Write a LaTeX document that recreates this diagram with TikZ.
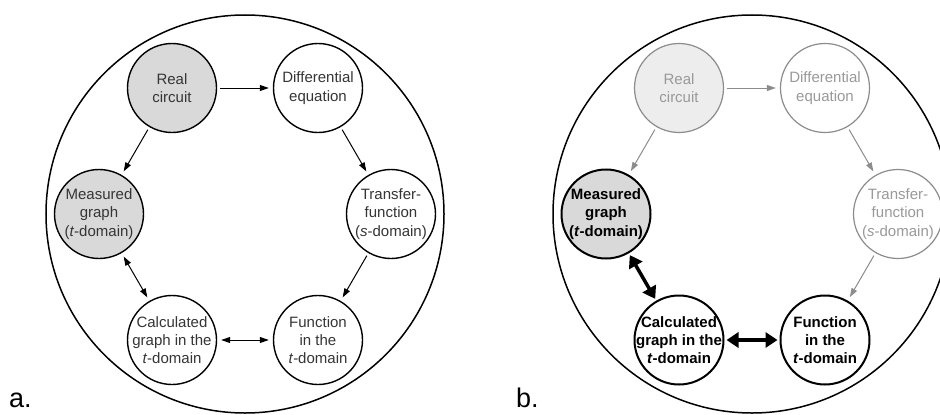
\documentclass[tikz,border=0pt]{standalone}
\usepackage{fontspec}
\setmainfont{Liberation Sans}
\usepackage{xcolor}
\usetikzlibrary{arrows.meta}

\definecolor{fillgray}{HTML}{D9D9D9}
\definecolor{palegray}{HTML}{EDEDED}
\definecolor{textgray}{HTML}{353535}
\definecolor{fadegray}{HTML}{8C8C8C}
\definecolor{fadetext}{HTML}{999999}

\newcommand{\stagefont}{\fontsize{15bp}{18.3bp}\selectfont}

\tikzset{
  stage/.style={circle, draw, fill=white, line width=1.4bp, minimum size=89bp, inner sep=-12bp,
    align=center, font=\stagefont, text=textgray},
  measured/.style={stage, fill=fillgray},
  faded/.style={stage, draw=fadegray, line width=1.2bp, text=fadetext},
  boldstage/.style={stage, line width=2bp, text=black, font=\stagefont\bfseries},
  flow/.style={-{Triangle[length=9bp,width=6bp]}, line width=1bp, shorten <=3bp, shorten >=4bp},
  twoway/.style={{Triangle[length=9bp,width=6bp]}-{Triangle[length=9bp,width=6bp]},
    line width=1bp, shorten <=4bp, shorten >=4bp},
  fadedflow/.style={flow, draw=fadegray},
  thicktwoway/.style={{Triangle[length=12bp,width=15bp]}-{Triangle[length=12bp,width=15bp]},
    line width=3.5bp, shorten <=2bp, shorten >=2bp},
  panel/.style={font=\fontsize{27bp}{30bp}\selectfont, anchor=base west, inner sep=0pt}
}

\begin{document}
\begin{tikzpicture}[x=1bp, y=1bp]
    \useasboundingbox (0,0) rectangle (940,414);

    % a. all six stages
    \draw[line width=1.5bp] (245,200) circle[radius=199bp];

    \node[measured] (a-real) at (172,326) {Real\\circuit};
    \node[stage] (a-diff) at (318,326) {Differential\\equation};
    \node[measured] (a-meas) at (99,200) {Measured\\graph\\(\textit{t}-domain)};
    \node[stage] (a-trans) at (391,200) {Transfer-\\function\\(\textit{s}-domain)};
    \node[stage] (a-calc) at (172,74) {Calculated\\graph in the\\\textit{t}-domain};
    \node[stage] (a-func) at (318,74) {Function\\in the\\\textit{t}-domain};

    \draw[flow] (a-real) -- (a-diff);
    \draw[flow] (a-real) -- (a-meas);
    \draw[flow] (a-diff) -- (a-trans);
    \draw[flow] (a-trans) -- (a-func);
    \draw[twoway] (a-meas) -- (a-calc);
    \draw[twoway] (a-calc) -- (a-func);

    \node[panel] (a-label) at (9,7) {a.};

    % b. only the comparison stays in front
    \draw[line width=1.5bp] (752,200) circle[radius=199bp];

    \node[faded, fill=palegray] (b-real) at (679,326) {Real\\circuit};
    \node[faded] (b-diff) at (825,326) {Differential\\equation};
    \node[boldstage, fill=fillgray] (b-meas) at (606,200) {Measured\\graph\\(\textit{t}-domain)};
    \node[faded] (b-trans) at (898,200) {Transfer-\\function\\(\textit{s}-domain)};
    \node[boldstage] (b-calc) at (679,74) {Calculated\\graph in the\\\textit{t}-domain};
    \node[boldstage] (b-func) at (825,74) {Function\\in the\\\textit{t}-domain};

    \draw[fadedflow] (b-real) -- (b-diff);
    \draw[fadedflow] (b-real) -- (b-meas);
    \draw[fadedflow] (b-diff) -- (b-trans);
    \draw[fadedflow] (b-trans) -- (b-func);
    \draw[thicktwoway] (b-meas) -- (b-calc);
    \draw[thicktwoway] (b-calc) -- (b-func);

    \node[panel] (b-label) at (516,7) {b.};
\end{tikzpicture}
\end{document}
